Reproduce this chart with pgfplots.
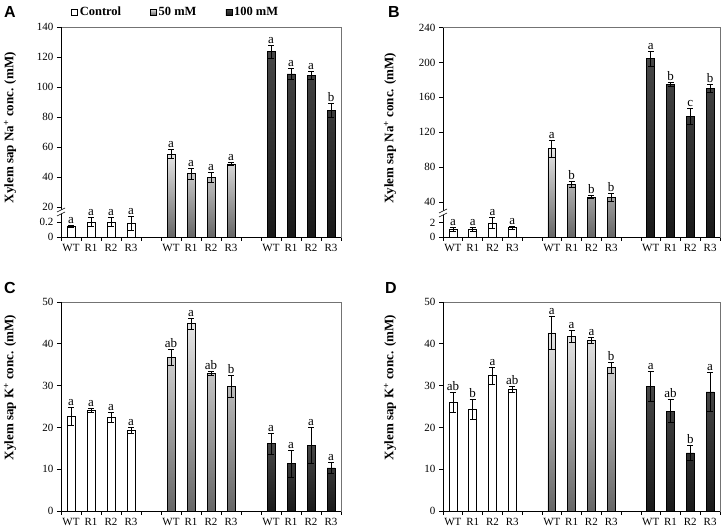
\documentclass[border=0pt]{standalone}
\usepackage{fontspec}
\setmainfont{Liberation Serif}
\newfontfamily\sansbf{Liberation Sans}
\usepackage{pgfplots}
\pgfplotsset{compat=1.18}
\usepackage{pgfplotstable}

\pgfmathdeclarefunction{tA}{1}{\pgfmathparse{(#1<1)?(75*#1):(30+1.5*(#1-20))}}
\pgfmathdeclarefunction{tB}{1}{\pgfmathparse{(#1<10)?(7.2*#1):(35+0.872*(#1-40))}}

\pgfplotstableread{
x y e l
0 0.143 0.01 a
1 0.196 0.06 a
2 0.200 0.06 a
3 0.180 0.09 a
5 55.3 3.0 a
6 42.2 3.6 a
7 39.8 3.3 a
8 48.7 1.0 a
10 123.6 4.4 a
11 108.7 3.8 a
12 107.8 2.5 a
13 84.2 4.7 b
}\tabA

\pgfplotstableread{
x y e l
0 1.07 0.30 a
1 1.05 0.30 a
2 1.94 0.80 a
3 1.30 0.20 a
5 101.2 9.5 a
6 60.3 3.5 b
7 45.7 1.5 b
8 45.7 4.5 b
10 204.4 8.8 a
11 175.2 2.4 b
12 138.3 9.5 c
13 170.4 4.9 b
}\tabB

\pgfplotstableread{
x y e l
0 22.7 2.1 a
1 24.1 0.5 a
2 22.4 1.2 a
3 19.3 0.8 a
5 36.7 1.9 ab
6 44.8 1.4 a
7 33.0 0.5 ab
8 29.9 2.6 b
10 16.1 2.5 a
11 11.3 3.3 a
12 15.7 4.2 a
13 10.3 1.3 a
}\tabC

\pgfplotstableread{
x y e l
0 26.0 2.5 ab
1 24.4 2.4 b
2 32.4 2.0 a
3 29.2 0.7 ab
5 42.6 4.0 a
6 41.8 1.4 a
7 40.8 0.7 a
8 34.3 1.3 b
10 29.9 3.6 a
11 23.9 2.8 ab
12 13.9 1.8 b
13 28.5 4.7 a
}\tabD

\pgfplotsset{
 panel/.style={
  scale only axis, anchor=south west, clip=false,
  xmin=-0.5, xmax=13.5, ymin=0,
  xtick={-0.5,0.5,...,13.5},
  xticklabels={},
  extra x ticks={0,1,2,3,5,6,7,8,10,11,12,13},
  extra x tick labels={WT,R1,R2,R3,WT,R1,R2,R3,WT,R1,R2,R3},
  extra x tick style={major tick length=0pt, xticklabel style={yshift=-4pt}},
  major tick length=4pt,
  tick align=outside, tick pos=left,
  axis line style={black!55, line width=0.6pt},
  tick style={black, line width=0.6pt},
  ticklabel style={font=\fontsize{11}{13}\selectfont},
  /pgf/number format/assume math mode=true,
  ylabel style={font=\bfseries\fontsize{13}{15}\selectfont, anchor=center},
 },
 sqlegend/.style={legend image code/.code={\draw[##1,draw=black,line width=0.5pt] (0pt,-3pt) rectangle (6pt,3pt);}},
 bars/.style={ybar, bar width=0.4, bar shift=0pt, draw=black, line width=0.6pt, sqlegend},
 ctrl/.style={bars, fill=white},
 mid/.style={bars, top color=black!10, bottom color=black!60},
 high/.style={bars, top color=black!72, bottom color=black!90},
 errs/.style={forget plot, draw=none, mark=none,
   error bars/y dir=both, error bars/y explicit,
   error bars/error bar style={draw=black, line width=0.7pt},
   error bars/error mark options={draw=black, line width=0.7pt, mark size=3pt, rotate=90}},
 lets/.style={forget plot, draw=none, mark=none, nodes near coords={\pgfplotspointmeta},
   point meta=explicit symbolic,
   every node near coord/.append style={anchor=south, font=\fontsize{13}{15}\selectfont, inner sep=1.5pt, black}},
}

\newcommand{\brk}[2]{%
 \fill[white] (#1-4pt,#2-5pt) -- (#1+4pt,#2-1pt) -- (#1+4pt,#2+3pt) -- (#1-4pt,#2-1pt) -- cycle;
 \draw[black, line width=0.6pt] (#1-4pt,#2-5pt) -- (#1+4pt,#2-1pt) (#1-4pt,#2-1pt) -- (#1+4pt,#2+3pt);}

\begin{document}
\begin{tikzpicture}
\useasboundingbox (0,0) rectangle (724pt,530pt);

% ---------- A ----------
\begin{axis}[panel, at={(61pt,293pt)}, width=280pt, height=210pt,
  ymax=210, ytick={0,15,30,60,90,120,150,180,210},
  yticklabels={0,0.2,20,40,60,80,100,120,140},
  ylabel style={at={(axis description cs:-0.182,0.52)}},
  ylabel={Xylem sap Na\textsuperscript{+} conc. (mM)},
  legend columns=3,
  legend style={at={(axis description cs:0.036,1.071)}, anchor=west, draw=none, fill=none, inner sep=0pt,
    font=\bfseries\fontsize{12.5}{14}\selectfont,
    /tikz/every even column/.append style={column sep=27pt}}]
\addplot[ctrl, restrict x to domain=-1:4] table[x=x, y expr={tA(\thisrow{y})}] \tabA;
\addlegendentry{Control}
\addplot[mid, restrict x to domain=4:9] table[x=x, y expr={tA(\thisrow{y})}] \tabA;
\addlegendentry{50 mM}
\addplot[high, restrict x to domain=9:14] table[x=x, y expr={tA(\thisrow{y})}] \tabA;
\addlegendentry{100 mM}
\addplot[errs] table[x=x, y expr={tA(\thisrow{y})}, y error expr={tA(\thisrow{y}+\thisrow{e})-tA(\thisrow{y})}] \tabA;
\addplot[lets] table[x=x, y expr={tA(\thisrow{y}+\thisrow{e})}, meta=l] \tabA;
\draw[black, line width=0.8pt] (rel axis cs:0,1) -- (rel axis cs:0,0) -- (rel axis cs:1,0);
\end{axis}

% ---------- B ----------
\begin{axis}[panel, at={(443pt,293pt)}, width=277pt, height=209.4pt,
  ymax=209.4, ytick={0,14.4,35,69.88,104.76,139.64,174.52,209.4},
  yticklabels={0,2,40,80,120,160,200,240},
  ylabel style={at={(axis description cs:-0.191,0.52)}},
  ylabel={Xylem sap Na\textsuperscript{+} conc. (mM)}]
\addplot[ctrl, restrict x to domain=-1:4] table[x=x, y expr={tB(\thisrow{y})}] \tabB;
\addplot[mid, restrict x to domain=4:9] table[x=x, y expr={tB(\thisrow{y})}] \tabB;
\addplot[high, restrict x to domain=9:14] table[x=x, y expr={tB(\thisrow{y})}] \tabB;
\addplot[errs] table[x=x, y expr={tB(\thisrow{y})}, y error expr={tB(\thisrow{y}+\thisrow{e})-tB(\thisrow{y})}] \tabB;
\addplot[lets] table[x=x, y expr={tB(\thisrow{y}+\thisrow{e})}, meta=l] \tabB;
\draw[black, line width=0.8pt] (rel axis cs:0,1) -- (rel axis cs:0,0) -- (rel axis cs:1,0);
\end{axis}

% ---------- C ----------
\begin{axis}[panel, at={(61pt,19pt)}, width=280pt, height=209pt,
  ymax=50, ytick={0,10,...,50},
  ylabel style={at={(axis description cs:-0.182,0.59)}},
  ylabel={Xylem sap K\textsuperscript{+} conc. (mM)}]
\addplot[ctrl, restrict x to domain=-1:4] table[x=x, y=y] \tabC;
\addplot[mid, restrict x to domain=4:9] table[x=x, y=y] \tabC;
\addplot[high, restrict x to domain=9:14] table[x=x, y=y] \tabC;
\addplot[errs] table[x=x, y=y, y error=e] \tabC;
\addplot[lets] table[x=x, y expr={\thisrow{y}+\thisrow{e}}, meta=l] \tabC;
\draw[black, line width=0.8pt] (rel axis cs:0,1) -- (rel axis cs:0,0) -- (rel axis cs:1,0);
\end{axis}

% ---------- D ----------
\begin{axis}[panel, at={(443pt,19pt)}, width=277pt, height=209pt,
  ymax=50, ytick={0,10,...,50},
  ylabel style={at={(axis description cs:-0.191,0.59)}},
  ylabel={Xylem sap K\textsuperscript{+} conc. (mM)}]
\addplot[ctrl, restrict x to domain=-1:4] table[x=x, y=y] \tabD;
\addplot[mid, restrict x to domain=4:9] table[x=x, y=y] \tabD;
\addplot[high, restrict x to domain=9:14] table[x=x, y=y] \tabD;
\addplot[errs] table[x=x, y=y, y error=e] \tabD;
\addplot[lets] table[x=x, y expr={\thisrow{y}+\thisrow{e}}, meta=l] \tabD;
\draw[black, line width=0.8pt] (rel axis cs:0,1) -- (rel axis cs:0,0) -- (rel axis cs:1,0);
\end{axis}

\brk{61pt}{319pt}
\brk{443pt}{318pt}

\node[font=\sansbf\bfseries\fontsize{16}{16}\selectfont] at (10pt,518pt) {A};
\node[font=\sansbf\bfseries\fontsize{16}{16}\selectfont] at (394pt,518pt) {B};
\node[font=\sansbf\bfseries\fontsize{16}{16}\selectfont] at (10pt,242pt) {C};
\node[font=\sansbf\bfseries\fontsize{16}{16}\selectfont] at (391pt,242pt) {D};
\end{tikzpicture}
\end{document}
